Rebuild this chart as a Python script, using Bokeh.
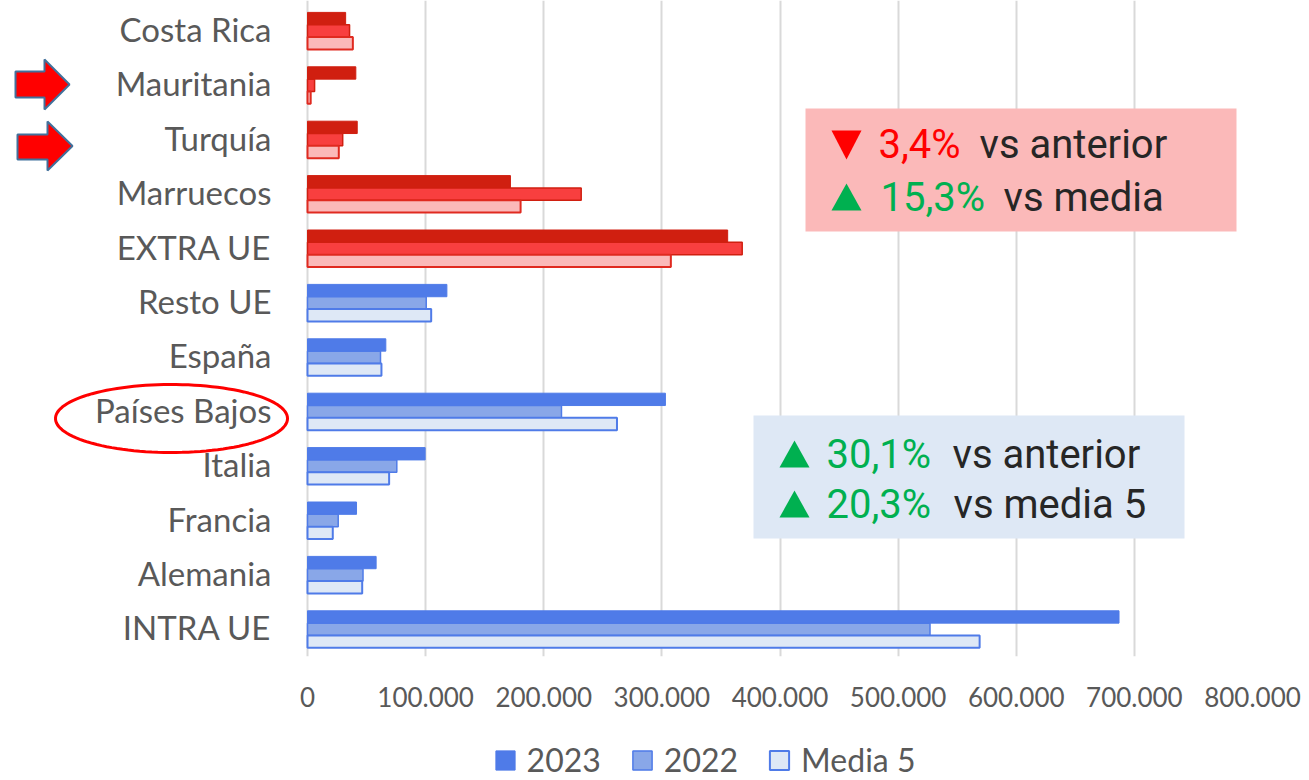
import numpy as np
from bokeh.plotting import figure
from bokeh.layouts import column
from bokeh.models import (ColumnDataSource, Range1d, FixedTicker, Legend, LegendItem,
                          Label, BoxAnnotation, PolyAnnotation)
from bokeh.core.properties import value
from bokeh.transform import dodge
from bokeh.embed import file_html
from bokeh.resources import INLINE

# ---------------- data (top to bottom as shown) ----------------
categories = ["Costa Rica", "Mauritania", "Turquía", "Marruecos", "EXTRA UE",
              "Resto UE", "España", "Países Bajos", "Italia", "Francia",
              "Alemania", "INTRA UE"]
groups = ["extra"] * 5 + ["intra"] * 7
values_2023 = [32300, 40900, 42100, 171800, 355700, 118000, 66300, 303000, 99600, 41500, 58100, 687000]
values_2022 = [35600, 6000, 29800, 231700, 368000, 100500, 61800, 215000, 75600, 26000, 47000, 527000]
values_media5 = [38400, 2700, 26500, 180400, 307600, 104700, 62600, 262000, 69100, 21400, 46300, 569000]
series_names = ["2023", "2022", "Media 5"]
x_tick_values = [0, 100000, 200000, 300000, 400000, 500000, 600000, 700000, 800000]
x_tick_labels = ["0", "100.000", "200.000", "300.000", "400.000", "500.000",
                 "600.000", "700.000", "800.000"]

# ---------------- layout ----------------
W, H_MAIN, H_LEG = 1309, 720, 60
PX0, PX800 = 307, 1252          # canvas px of value 0 and 800.000
FR, FB = 1252, 656              # frame right / bottom (frame starts at canvas 0,0)
ROW_PX = 54.4
n = len(categories)
X_MAX = 800000
XS = X_MAX / (PX800 - PX0)      # data units per px
Y_BOT = -0.5
Y_TOP = Y_BOT + FB / ROW_PX

def X(xp):   # canvas px -> data x
    return (xp - PX0) * XS

def Y(yp):   # canvas px -> data y
    return Y_BOT + (FB - yp) / ROW_PX

p = figure(width=W, height=H_MAIN, output_backend="svg", toolbar_location=None,
           x_range=Range1d(X(0), X(FR)), y_range=Range1d(Y_BOT, Y_TOP),
           y_axis_location=None,
           min_border_left=0, min_border_right=W - FR,
           min_border_top=0, min_border_bottom=H_MAIN - FB)
p.outline_line_color = None
p.background_fill_color = "white"
p.border_fill_color = "white"

ypos = [n - 1 - i for i in range(n)]
BAR_H = 0.2267
offsets = [BAR_H, 0.0, -BAR_H]
series_values = [values_2023, values_2022, values_media5]

styles = {
    "intra": [dict(fill_color="#4F7BE8", line_color="#4F7BE8", line_width=1),
              dict(fill_color="#89A7E8", line_color="#4F7BE8", line_width=1.5),
              dict(fill_color="#DEE8F6", line_color="#4F7BE8", line_width=2)],
    "extra": [dict(fill_color="#D01F10", line_color="#D01F10", line_width=1),
              dict(fill_color="#F83F3F", line_color="#D01F10", line_width=1.5),
              dict(fill_color="#FBB9B9", line_color="#E02A20", line_width=2)],
}

for grp in ("extra", "intra"):
    idx = [i for i, g in enumerate(groups) if g == grp]
    for k, vals in enumerate(series_values):
        src = ColumnDataSource(dict(y=[ypos[i] for i in idx], right=[vals[i] for i in idx]))
        p.hbar(y=dodge("y", offsets[k], range=p.y_range), right="right", left=0,
               height=BAR_H, source=src, **styles[grp][k])

# category labels (left of the bars)
cat_src = ColumnDataSource(dict(y=ypos, text=categories))
p.text(x=X(271), y="y", text="text", source=cat_src, text_align="right",
       text_baseline="middle", y_offset=-2, text_font=value("Lato"), text_font_size="33px",
       text_color="#595959")

# ---------------- x axis / grid ----------------
p.xaxis.ticker = FixedTicker(ticks=x_tick_values)
p.xaxis.major_label_overrides = dict(zip(x_tick_values, x_tick_labels))
p.xaxis.axis_line_color = None
p.xaxis.major_tick_line_color = None
p.xaxis.minor_tick_line_color = None
p.xaxis.major_label_text_font = "Lato"
p.xaxis.major_label_text_font_size = "26px"
p.xaxis.major_label_text_color = "#595959"
p.xaxis.major_label_standoff = 24

p.xgrid.ticker = FixedTicker(ticks=x_tick_values)
p.xgrid.grid_line_color = "#D9D9D9"
p.xgrid.grid_line_width = 2
p.ygrid.visible = False

# ---------------- annotation boxes ----------------
RED, GREEN, DARK = "#FF0000", "#00B050", "#262626"
FONT = "Roboto"
FS = "40px"
TXT_SHIFT = 13   # renderer puts the alphabetic baseline lower than asked

def box(l, r, t, b, color):
    p.add_layout(BoxAnnotation(left=X(l), right=X(r), top=Y(t), bottom=Y(b),
                               fill_color=color, fill_alpha=1, line_alpha=0))

def tri(l, r, t, b, up, color):
    if up:
        xs, ys = [X(l), X(r), X((l + r) / 2)], [Y(b), Y(b), Y(t)]
    else:
        xs, ys = [X(l), X(r), X((l + r) / 2)], [Y(t), Y(t), Y(b)]
    p.add_layout(PolyAnnotation(xs=xs, ys=ys, fill_color=color, fill_alpha=1, line_alpha=0))

def txt(xp, yp, s, color):
    p.add_layout(Label(x=X(xp), y=Y(yp - TXT_SHIFT), text=s, text_font=FONT, text_font_size=FS,
                       text_color=color, text_baseline="alphabetic", text_align="left"))

box(805, 1236, 108, 231, "#FBB9B9")
tri(831, 861, 130, 159, False, RED)
txt(878, 157, "3,4%", RED)
txt(979, 157, "vs anterior", DARK)
tri(831, 861, 183, 210, True, GREEN)
txt(880, 210, "15,3%", GREEN)
txt(1003, 210, "vs media", DARK)

box(753, 1184, 415, 538, "#DEE8F5")
tri(779, 809, 440, 467, True, GREEN)
txt(826, 467, "30,1%", GREEN)
txt(952, 467, "vs anterior", DARK)
tri(779, 809, 490, 517, True, GREEN)
txt(826, 517, "20,3%", GREEN)
txt(953, 517, "vs media 5", DARK)

# ---------------- block arrows and ellipse ----------------
def arrow(x0, xb, xt, st, sb, ht, hb):
    pts = [(x0, st), (xb, st), (xb, ht), (xt, (ht + hb) / 2), (xb, hb), (xb, sb), (x0, sb)]
    p.add_layout(PolyAnnotation(xs=[X(a) for a, _ in pts], ys=[Y(b) for _, b in pts],
                                fill_color="#FF0000", fill_alpha=1,
                                line_color="#41719C", line_alpha=1, line_width=2))

arrow(15, 44, 69, 71, 97, 59, 109)
arrow(17, 47, 72, 134, 159, 121, 170)

th = np.linspace(0, 2 * np.pi, 120)
ex = 171 + 116 * np.cos(th)
ey = 418 + 34 * np.sin(th)
p.add_layout(PolyAnnotation(xs=[X(a) for a in ex], ys=[Y(b) for b in ey],
                            fill_alpha=0, line_color="#FF0000", line_alpha=1, line_width=3))

# ---------------- legend strip ----------------
pl = figure(width=W, height=H_LEG, output_backend="svg", toolbar_location=None,
            x_range=Range1d(0, W), y_range=Range1d(0, H_LEG),
            x_axis_location=None, y_axis_location=None, min_border=0)
pl.outline_line_color = None
pl.xgrid.visible = False
pl.ygrid.visible = False
intra_idx = [i for i, g in enumerate(groups) if g == "intra"]
leg_renderers = []
for k, vals in enumerate(series_values):
    src = ColumnDataSource(dict(y=[ypos[i] for i in intra_idx], right=[vals[i] for i in intra_idx]))
    r = pl.hbar(y="y", right="right", left=0, height=BAR_H, source=src,
                visible=False, **styles["intra"][k])
    leg_renderers.append(r)

legend = Legend(items=[LegendItem(label=s, renderers=[r]) for s, r in zip(series_names, leg_renderers)],
                orientation="horizontal", location=(492.6, 1),
                label_text_font="Lato", label_text_font_size="32px", label_text_color="#595959",
                glyph_width=24, glyph_height=24, label_standoff=10, spacing=29,
                padding=0, margin=0, border_line_alpha=0, background_fill_alpha=0)
pl.add_layout(legend)

layout = column(p, pl, spacing=0)
open("out.html", "w").write(file_html(layout, INLINE))
